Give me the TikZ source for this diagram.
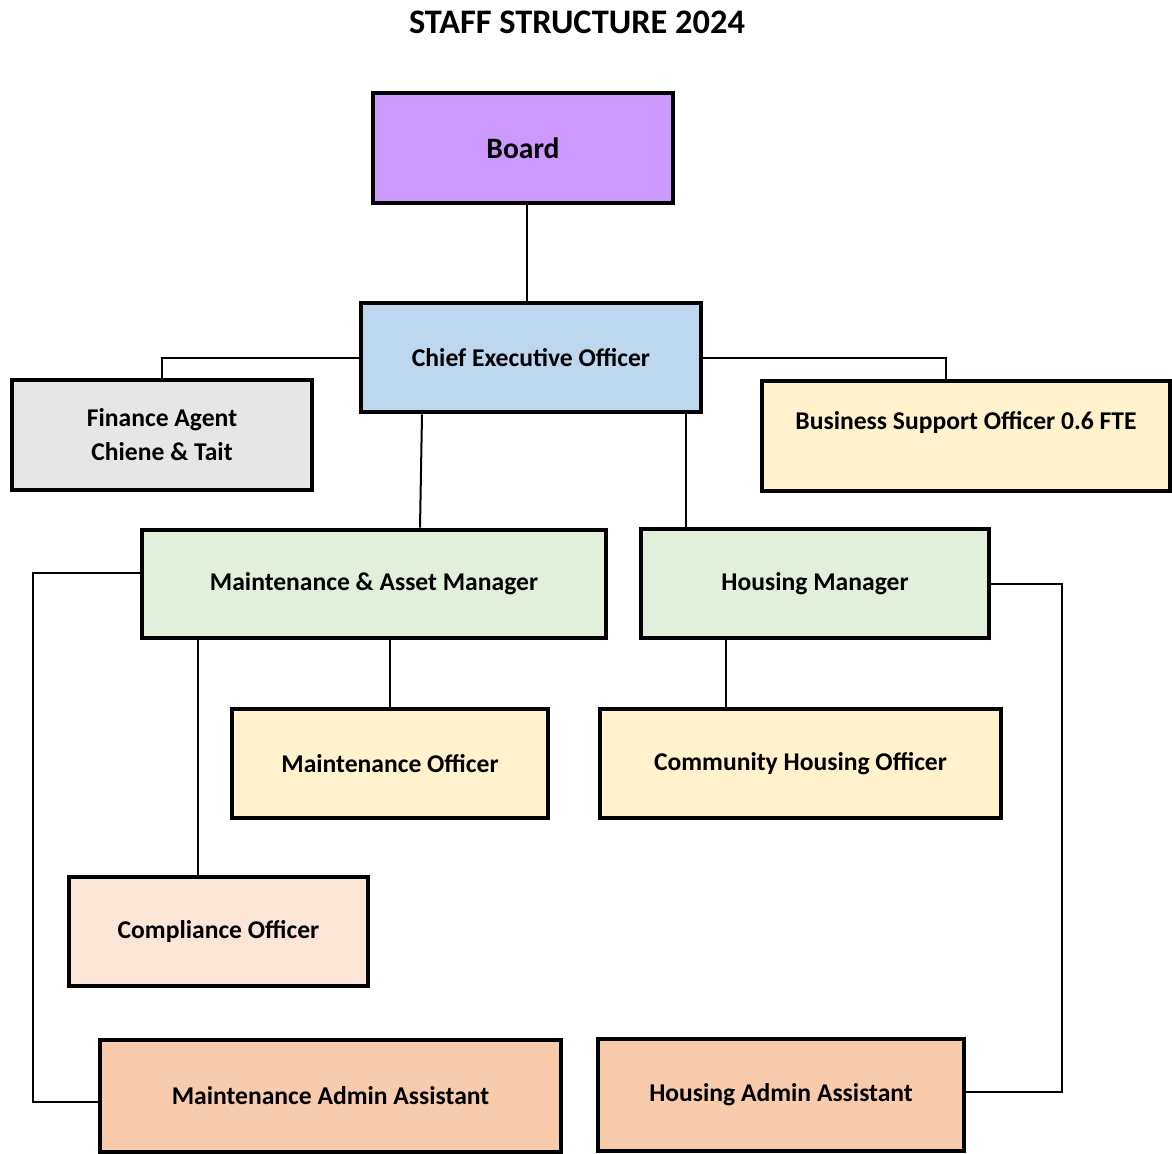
\documentclass[tikz,border=0pt]{standalone}
\usepackage{fontspec}
\setmainfont{Carlito}
\definecolor{boardc}{HTML}{CC99FF}
\definecolor{ceoc}{HTML}{BDD7EE}
\definecolor{finc}{HTML}{E7E6E6}
\definecolor{offc}{HTML}{FFF2CC}
\definecolor{mgrc}{HTML}{E2EFDA}
\definecolor{compc}{HTML}{FBE5D6}
\definecolor{admc}{HTML}{F8CBAD}
\begin{document}
\begin{tikzpicture}[x=0.5pt,y=-0.5pt,
  box/.style={draw,line width=2.3pt,inner sep=0pt,align=center,font=\fontsize{12.8}{17}\selectfont\bfseries},
  link/.style={line width=1pt}]
\useasboundingbox (0,0) rectangle (1172,1153);
\node[font=\fontsize{17.2}{20}\selectfont\bfseries] (t) at (577,22) {STAFF STRUCTURE 2024};
\node[box,fill=boardc,minimum width=150pt,minimum height=55pt,font=\fontsize{14.8}{17}\selectfont\bfseries] (brd) at (523,148) {Board};
\node[box,fill=ceoc,minimum width=170pt,minimum height=54.5pt] (ceo) at (531,357.5) {Chief Executive Officer};
\node[box,fill=finc,minimum width=150pt,minimum height=55pt] (fin) at (162,435) {Finance Agent\\Chiene \& Tait};
\node[box,fill=offc,minimum width=204pt,minimum height=55pt,font=\fontsize{12.8}{12}\selectfont\bfseries] (bso) at (966,436) {Business Support Officer 0.6 FTE\\\strut};
\node[box,fill=mgrc,minimum width=232pt,minimum height=54pt] (mam) at (374,584) {Maintenance \& Asset Manager};
\node[box,fill=mgrc,minimum width=174pt,minimum height=54.5pt] (hm) at (815,583.5) {Housing Manager};
\node[box,fill=offc,minimum width=158pt,minimum height=54.5pt] (mo) at (390,763.5) {Maintenance Officer};
\node[box,fill=offc,minimum width=200.5pt,minimum height=54.5pt] (cho) at (800.5,763.5) {Community Housing Officer};
\node[box,fill=compc,minimum width=149.5pt,minimum height=54.5pt] (co) at (218.5,931.5) {Compliance Officer};
\node[box,fill=admc,minimum width=230.5pt,minimum height=56pt] (maa) at (330.5,1096) {Maintenance Admin Assistant};
\node[box,fill=admc,minimum width=183pt,minimum height=56pt] (haa) at (781,1095) {Housing Admin Assistant};

\draw[link] ([xshift=2pt]brd.south) -- ([xshift=-2pt]ceo.north);
\draw[link] (ceo.west) -| (fin.north);
\draw[link] (ceo.east) -| ([xshift=-10pt]bso.north);
\draw[link] ([xshift=-54.5pt]ceo.south) -- ([xshift=23pt]mam.north);
\draw[link] ([xshift=77.5pt]ceo.south) -- ([xshift=-64.5pt]hm.north);
\draw[link] ([yshift=5.5pt]mam.west) -- ++(-107,0) |- ([yshift=-3pt]maa.west);
\draw[link] ([xshift=-88pt]mam.south) -- ([xshift=-10.25pt]co.north);
\draw[link] (mo.north) -- (mo.north |- mam.south);
\draw[link] ([xshift=-44.5pt]hm.south) -- ([xshift=-37.25pt]cho.north);
\draw[link] (hm.east) -- ++(71,0) |- ([yshift=1.5pt]haa.east);
\end{tikzpicture}
\end{document}
